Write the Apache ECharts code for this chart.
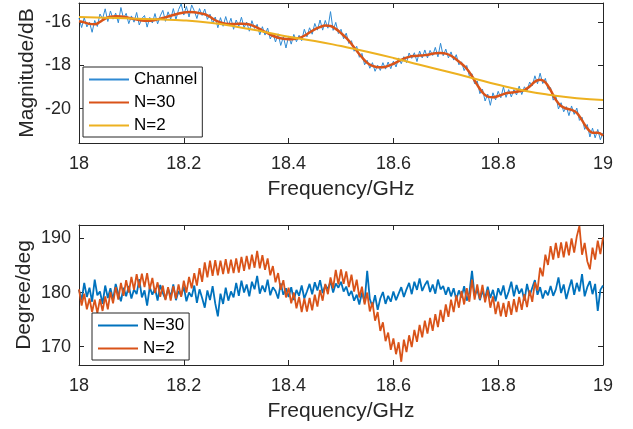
<!DOCTYPE html>
<html><head><meta charset="utf-8">
<script src="https://cdn.jsdelivr.net/npm/echarts@6/dist/echarts.min.js"></script>
<style>html,body{margin:0;padding:0;background:#fff}#c{width:633px;height:429px}</style>
</head><body><div id="c"></div>
<script>
// ---- data ----
const xTicks = [18, 18.2, 18.4, 18.6, 18.8, 19];
const magTicks = [-20, -18, -16];
const degTicks = [170, 180, 190];

// fine grid 18.000 .. 19.000 step 0.005 (201 samples)
const channelMag = [
-15.80,-16.24,-15.78,-16.21,-15.99,-16.46,-15.91,-16.19,-15.61,-15.83,
-15.37,-15.96,-15.47,-15.85,-15.57,-16.02,-15.31,-15.82,-15.58,-16.06,
-15.70,-15.99,-15.54,-16.12,-15.82,-15.68,-16.22,-15.77,-16.03,-15.59,
-16.07,-15.70,-15.44,-15.95,-15.51,-15.85,-15.36,-15.87,-15.41,-15.14,
-15.66,-15.26,-15.75,-15.19,-15.46,-15.82,-15.36,-15.68,-15.38,-15.86,
-15.62,-16.05,-15.75,-16.25,-15.78,-16.18,-15.73,-16.15,-15.81,-16.32,
-15.89,-16.19,-15.76,-16.25,-15.99,-16.41,-15.92,-16.28,-16.09,-16.58,
-16.20,-16.59,-16.26,-16.77,-16.50,-16.91,-16.53,-17.07,-16.67,-17.19,
-16.63,-17.01,-16.56,-16.90,-16.60,-16.85,-16.32,-16.67,-16.25,-16.55,
-16.05,-16.36,-15.89,-16.36,-15.91,-16.27,-15.50,-16.37,-16.00,-16.52,
-16.32,-16.76,-16.50,-16.98,-16.85,-17.34,-17.11,-17.62,-17.44,-17.97,
-17.76,-18.13,-17.87,-18.27,-17.99,-18.23,-17.87,-18.17,-17.84,-18.15,
-17.80,-18.07,-17.65,-17.92,-17.59,-17.87,-17.42,-17.67,-17.41,-17.82,
-17.33,-17.65,-17.28,-17.65,-17.30,-17.54,-17.16,-17.60,-16.97,-17.55,
-17.24,-17.65,-17.37,-17.75,-17.50,-17.97,-17.83,-18.24,-18.00,-18.50,
-18.38,-18.85,-18.72,-19.31,-19.10,-19.65,-19.33,-19.85,-19.27,-19.60,
-19.20,-19.50,-19.00,-19.48,-19.12,-19.46,-19.12,-19.37,-18.96,-19.35,
-18.99,-19.18,-18.77,-18.95,-18.48,-18.85,-18.36,-18.84,-18.60,-19.10,
-19.03,-19.61,-19.42,-20.02,-19.73,-20.15,-19.91,-20.33,-19.88,-20.27,
-19.98,-20.55,-20.40,-20.97,-20.74,-21.32,-20.91,-21.36,-20.97,-21.45,-21.13
];

// N=30 magnitude, 18.00 .. 19.00 step 0.01
const n30Mag = [
-15.95,-16.00,-16.07,-16.09,-15.98,-15.82,-15.74,-15.72,-15.73,-15.76,
-15.82,-15.87,-15.91,-15.92,-15.91,-15.86,-15.80,-15.73,-15.66,-15.59,
-15.54,-15.52,-15.53,-15.57,-15.62,-15.74,-15.90,-16.00,-16.06,-16.08,
-16.07,-16.06,-16.08,-16.14,-16.24,-16.38,-16.50,-16.62,-16.71,-16.76,
-16.78,-16.77,-16.72,-16.62,-16.47,-16.32,-16.22,-16.15,-16.17,-16.30,
-16.50,-16.72,-17.00,-17.32,-17.62,-17.88,-18.02,-18.08,-18.08,-18.02,
-17.92,-17.80,-17.68,-17.60,-17.56,-17.54,-17.52,-17.48,-17.43,-17.42,
-17.45,-17.55,-17.72,-17.92,-18.15,-18.50,-18.90,-19.25,-19.45,-19.48,
-19.42,-19.33,-19.27,-19.24,-19.20,-19.14,-18.98,-18.75,-18.66,-18.78,
-19.15,-19.60,-19.88,-20.00,-20.06,-20.20,-20.55,-20.92,-21.12,-21.12,
-21.25
];

// N=2 magnitude, 18.00 .. 19.00 step 0.05
const n2Mag = [
-15.75,-15.78,-15.82,-15.86,-15.91,-16.02,-16.20,-16.42,-16.67,-16.86,
-17.10,-17.36,-17.65,-17.97,-18.27,-18.58,-18.90,-19.17,-19.37,-19.52,-19.60
];

// phase, fine grid step 0.005
const n30Deg = [
180.5,178.6,181.8,179.2,180.9,178.3,182.4,179.5,180.2,177.9,181.3,179.0,180.8,178.7,181.6,179.8,178.4,180.9,179.3,181.2,
178.9,180.6,179.7,182.5,179.1,180.4,177.6,181.0,179.6,180.8,178.5,181.4,179.9,178.8,180.7,179.2,181.5,178.6,180.3,179.4,
181.1,178.4,180.0,179.2,181.3,178.1,180.6,179.0,177.2,180.4,178.6,181.2,178.0,175.6,179.8,177.9,180.9,178.5,180.2,179.1,
181.8,179.4,182.2,180.0,181.5,179.3,182.0,180.6,183.1,179.8,181.3,180.1,182.4,179.5,181.0,180.3,178.9,181.7,179.6,180.8,
179.2,181.0,178.6,180.5,179.4,181.3,178.9,180.2,181.6,179.7,181.9,180.4,182.3,179.9,181.4,180.6,182.1,180.0,181.7,180.9,
182.0,180.2,181.1,179.4,180.3,178.5,179.6,177.8,180.0,178.2,184.0,178.8,177.4,179.5,176.8,178.9,180.1,177.9,179.4,178.3,
180.2,178.6,179.8,181.0,179.2,180.6,181.8,179.7,182.0,180.5,182.6,180.3,181.4,182.2,180.1,181.5,179.8,182.4,180.6,181.2,
179.6,181.0,179.3,180.8,178.7,180.4,179.1,181.2,178.5,180.0,184.0,179.4,180.6,178.6,180.3,178.9,181.1,179.0,180.5,178.4,
180.8,179.5,181.3,178.8,180.2,182.0,179.3,181.4,179.8,180.7,178.5,181.6,179.4,180.9,182.3,179.6,181.0,178.9,180.4,179.5,
181.2,179.4,180.6,182.8,179.9,181.5,178.8,180.7,182.4,179.6,181.8,180.2,183.4,179.3,181.0,182.1,179.7,181.6,176.6,180.5,181.3
];
const n2Deg = [
180.6,177.6,179.8,176.9,178.9,176.4,178.7,176.2,178.8,176.6,179.3,176.9,180.1,178.0,181.0,178.7,181.8,179.4,182.3,180.0,
182.9,180.5,183.4,180.9,183.5,181.0,183.6,180.6,182.7,179.9,181.9,179.2,181.3,178.6,181.0,178.5,181.2,178.9,181.5,179.2,
182.2,180.0,182.9,180.8,183.6,181.3,184.5,182.0,185.6,182.8,185.9,183.1,186.0,183.2,185.9,183.4,186.2,183.5,186.1,183.6,
186.3,183.7,186.6,184.0,186.8,184.3,187.0,184.6,187.7,184.5,186.9,184.2,186.3,183.2,184.9,181.9,183.6,180.5,182.3,179.1,
180.9,178.0,180.0,177.1,179.2,176.4,178.9,176.5,179.0,176.7,179.6,177.4,180.5,178.5,181.6,179.7,182.8,180.8,184.2,181.5,
184.3,181.6,183.9,181.0,183.3,180.2,182.4,179.1,181.1,177.8,180.0,176.5,178.2,174.8,176.4,172.9,174.5,171.0,172.6,169.4,
171.5,168.6,170.8,167.2,171.3,169.0,172.1,169.9,173.1,170.9,174.0,171.7,174.8,172.4,175.3,172.9,176.0,173.6,176.8,174.6,
177.8,175.5,178.7,176.4,179.5,177.2,180.3,177.8,180.8,178.3,182.4,178.7,181.5,178.8,181.4,178.2,180.5,177.2,179.3,176.0,
178.3,175.6,178.1,175.5,178.4,175.9,178.8,176.4,179.2,176.8,179.7,177.3,180.4,178.3,181.9,180.4,184.6,183.0,187.0,185.1,
188.6,186.1,189.2,186.4,189.3,186.5,189.4,186.9,190.0,187.4,190.4,192.3,187.0,189.2,185.8,184.3,188.3,186.1,189.6,187.1,190.2
];

// ---- build pairs on the sampling grids ----
const pairs = (vals, step) => vals.map((v, i) => [+(18 + i * step).toFixed(3), v]);

const TXT = '#262626';
const FONT = 'Liberation Sans, Arial, Helvetica, sans-serif';

function xAx(grid, pos, named) {
  return {
    type: 'value', gridIndex: grid, position: pos, min: 18, max: 19, interval: 0.2,
    name: named ? 'Frequency/GHz' : '', nameLocation: 'middle', nameGap: 36, nameMoveOverlap: false,
    nameTextStyle: { fontSize: 21, color: TXT, fontFamily: FONT },
    axisLine: { onZero: false, lineStyle: { color: TXT, width: 1 } },
    axisTick: { inside: true, length: 5, lineStyle: { color: TXT, width: 1 } },
    axisLabel: { show: named, fontSize: 18, color: TXT, margin: 12, fontFamily: FONT },
    splitLine: { show: false }
  };
}
function yAx(grid, pos, min, max, ticks, name, gap) {
  return {
    type: 'value', gridIndex: grid, position: pos, min: min, max: max,
    name: name, nameLocation: 'middle', nameGap: gap, nameMoveOverlap: false,
    nameTextStyle: { fontSize: 21, color: TXT, fontFamily: FONT },
    axisLine: { onZero: false, lineStyle: { color: TXT, width: 1 } },
    axisTick: { inside: true, length: 5, customValues: ticks, lineStyle: { color: TXT, width: 1 } },
    axisLabel: { show: !!name, fontSize: 18, color: TXT, margin: 8, fontFamily: FONT, customValues: ticks },
    splitLine: { show: false }
  };
}
function legendBox(left, top, names) {
  return {
    orient: 'vertical', left: left, top: top, data: names,
    formatter: n => n.trim(),
    itemWidth: 40, itemHeight: 14, itemGap: 6,
    padding: [4, 5, 3, 5],
    itemStyle: { opacity: 0 },
    borderColor: TXT, borderWidth: 1, borderRadius: 0, backgroundColor: '#fff',
    textStyle: { fontSize: 17, color: '#000', fontFamily: FONT },
    selectedMode: false
  };
}

const chart = echarts.init(document.getElementById('c'), null, { renderer: 'canvas' });
chart.setOption({
  animation: false,
  backgroundColor: '#fff',
  grid: [
    { left: 79, top: 3, width: 524, height: 140 },
    { left: 79, top: 225, width: 524, height: 140 }
  ],
  xAxis: [xAx(0, 'bottom', true), xAx(0, 'top', false), xAx(1, 'bottom', true), xAx(1, 'top', false)],
  yAxis: [
    yAx(0, 'left', -21.6, -15.1, magTicks, 'Magnitude/dB', 41),
    yAx(0, 'right', -21.6, -15.1, magTicks, '', 0),
    yAx(1, 'left', 166.6, 192.5, degTicks, 'Degree/deg', 44),
    yAx(1, 'right', 166.6, 192.5, degTicks, '', 0)
  ],
  legend: [
    legendBox(83, 67, ['Channel', 'N=30', 'N=2']),
    legendBox(92, 313, ['N=30 ', 'N=2 '])
  ],
  series: [
    { name: 'Channel', type: 'line', xAxisIndex: 0, yAxisIndex: 0, symbol: 'none',
      lineStyle: { width: 1, color: '#2f8ad3' }, itemStyle: { color: '#2f8ad3' },
      data: pairs(channelMag, 0.005) },
    { name: 'N=30', type: 'line', xAxisIndex: 0, yAxisIndex: 0, symbol: 'none', smooth: 0.4,
      lineStyle: { width: 2.5, color: '#D95319' }, itemStyle: { color: '#D95319' },
      data: pairs(n30Mag, 0.01) },
    { name: 'N=2', type: 'line', xAxisIndex: 0, yAxisIndex: 0, symbol: 'none', smooth: 0.5,
      lineStyle: { width: 2, color: '#EDB120' }, itemStyle: { color: '#EDB120' },
      data: pairs(n2Mag, 0.05) },
    { name: 'N=30 ', type: 'line', xAxisIndex: 2, yAxisIndex: 2, symbol: 'none',
      lineStyle: { width: 1.8, color: '#0072BD' }, itemStyle: { color: '#0072BD' },
      data: pairs(n30Deg, 0.005) },
    { name: 'N=2 ', type: 'line', xAxisIndex: 2, yAxisIndex: 2, symbol: 'none',
      lineStyle: { width: 1.8, color: '#D95319' }, itemStyle: { color: '#D95319' },
      data: pairs(n2Deg, 0.005) }
  ]
});
</script>
</body></html>
